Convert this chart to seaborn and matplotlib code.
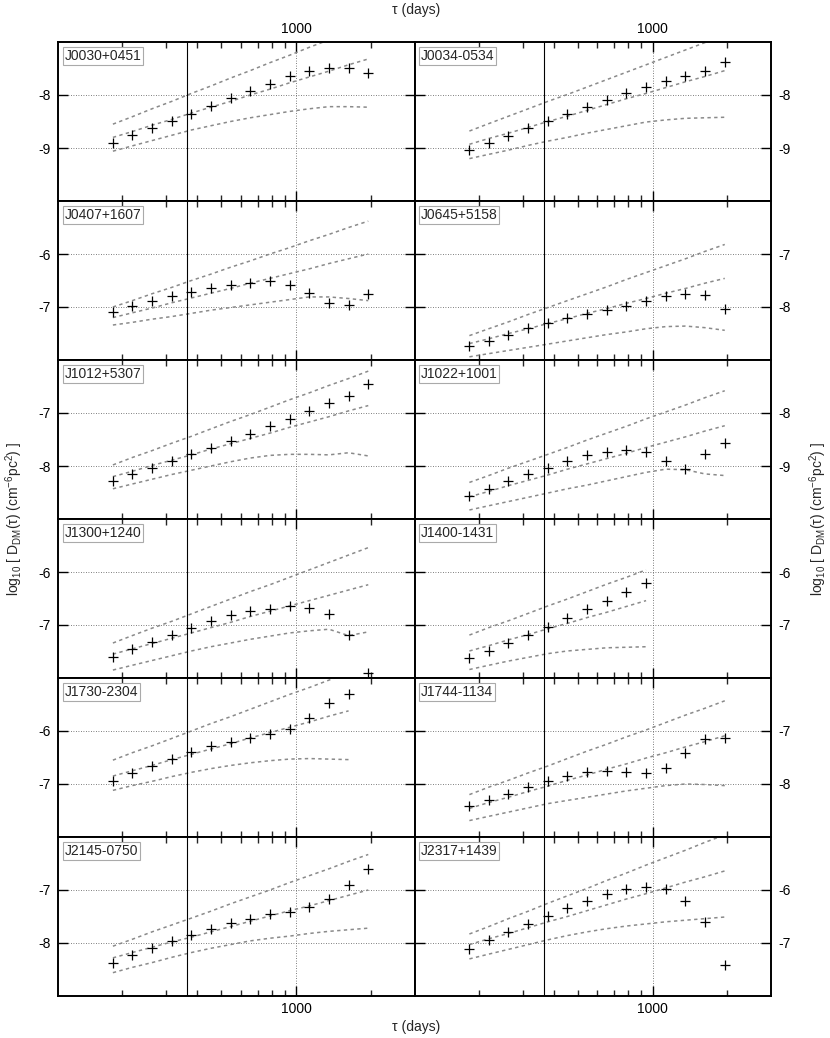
import matplotlib
matplotlib.use("Agg")
import matplotlib.pyplot as plt
import matplotlib.ticker as mticker
import seaborn as sns

# lag values (days) shared by every pulsar
tau = [183, 219, 263, 316, 379, 454, 545, 654, 785, 942, 1131, 1357, 1628, 1954]

names = ["J0030+0451", "J0034-0534", "J0407+1607", "J0645+5158",
         "J1012+5307", "J1022+1001", "J1300+1240", "J1400-1431",
         "J1730-2304", "J1744-1134", "J2145-0750", "J2317+1439"]

# log10 D_DM measurements
j0030_pts = [-8.90, -8.76, -8.62, -8.49, -8.35, -8.21, -8.06, -7.92, -7.79, -7.65, -7.54, -7.49, -7.49, -7.58]
j0034_pts = [-9.04, -8.91, -8.77, -8.63, -8.49, -8.36, -8.22, -8.09, -7.96, -7.84, -7.74, -7.65, -7.54, -7.38]
j0407_pts = [-7.09, -6.99, -6.88, -6.79, -6.71, -6.64, -6.58, -6.54, -6.51, -6.58, -6.73, -6.92, -6.97, -6.76]
j0645_pts = [-8.73, -8.64, -8.52, -8.40, -8.31, -8.21, -8.14, -8.05, -7.98, -7.89, -7.80, -7.75, -7.77, -8.03]
j1012_pts = [-8.28, -8.15, -8.03, -7.91, -7.78, -7.66, -7.53, -7.39, -7.25, -7.11, -6.97, -6.82, -6.67, -6.45]
j1022_pts = [-9.56, -9.43, -9.29, -9.15, -9.04, -8.91, -8.79, -8.73, -8.70, -8.74, -8.91, -9.06, -8.78, -8.56]
j1300_pts = [-7.60, -7.46, -7.33, -7.19, -7.05, -6.92, -6.82, -6.74, -6.69, -6.65, -6.68, -6.80, -7.19, -7.91]
j1400_pts = [-7.63, -7.49, -7.34, -7.18, -7.03, -6.87, -6.70, -6.54, -6.38, -6.21]
j1730_pts = [-6.94, -6.79, -6.66, -6.53, -6.39, -6.28, -6.20, -6.13, -6.06, -5.96, -5.75, -5.48, -5.31]
j1744_pts = [-8.42, -8.30, -8.18, -8.06, -7.95, -7.85, -7.78, -7.75, -7.77, -7.80, -7.70, -7.41, -7.16, -7.13]
j2145_pts = [-8.38, -8.23, -8.09, -7.97, -7.84, -7.73, -7.62, -7.54, -7.46, -7.41, -7.33, -7.17, -6.90, -6.61]
j2317_pts = [-7.11, -6.95, -6.80, -6.64, -6.50, -6.34, -6.20, -6.08, -5.99, -5.94, -5.99, -6.20, -6.61, -7.41]

# dashed curves: upper, middle, lower
j0030_hi = [-8.55, -8.41, -8.26, -8.12, -7.97, -7.83, -7.68, -7.54, -7.39, -7.25, -7.10, -6.96, -6.81, -6.67]
j0030_mid = [-8.80, -8.69, -8.57, -8.46, -8.34, -8.23, -8.12, -8.00, -7.89, -7.77, -7.66, -7.55, -7.43, -7.32]
j0030_lo = [-9.06, -8.96, -8.86, -8.76, -8.66, -8.58, -8.50, -8.43, -8.37, -8.31, -8.26, -8.22, -8.22, -8.23]

j0034_hi = [-8.68, -8.54, -8.40, -8.26, -8.12, -7.99, -7.85, -7.71, -7.57, -7.43, -7.29, -7.15, -7.01, -6.87]
j0034_mid = [-8.93, -8.82, -8.72, -8.61, -8.50, -8.40, -8.29, -8.18, -8.07, -7.97, -7.86, -7.75, -7.65, -7.54]
j0034_lo = [-9.20, -9.12, -9.04, -8.95, -8.87, -8.80, -8.72, -8.65, -8.58, -8.51, -8.47, -8.44, -8.43, -8.42]

j0407_hi = [-7.00, -6.88, -6.75, -6.63, -6.50, -6.38, -6.25, -6.13, -6.00, -5.88, -5.75, -5.63, -5.50, -5.38]
j0407_mid = [-7.20, -7.11, -7.02, -6.92, -6.83, -6.74, -6.65, -6.55, -6.46, -6.37, -6.28, -6.18, -6.09, -6.00]
j0407_lo = [-7.34, -7.29, -7.23, -7.18, -7.12, -7.06, -7.01, -6.96, -6.91, -6.86, -6.81, -6.81, -6.84, -6.88]

j0645_hi = [-8.54, -8.41, -8.28, -8.14, -8.01, -7.88, -7.75, -7.62, -7.48, -7.35, -7.22, -7.09, -6.95, -6.82]
j0645_mid = [-8.69, -8.60, -8.50, -8.41, -8.31, -8.22, -8.12, -8.03, -7.93, -7.84, -7.74, -7.65, -7.55, -7.46]
j0645_lo = [-8.94, -8.88, -8.82, -8.76, -8.70, -8.64, -8.58, -8.52, -8.47, -8.41, -8.37, -8.36, -8.39, -8.44]

j1012_hi = [-7.98, -7.84, -7.71, -7.57, -7.44, -7.30, -7.16, -7.03, -6.89, -6.75, -6.62, -6.48, -6.35, -6.21]
j1012_mid = [-8.20, -8.10, -7.99, -7.89, -7.79, -7.68, -7.58, -7.48, -7.38, -7.27, -7.17, -7.07, -6.96, -6.86]
j1012_lo = [-8.43, -8.34, -8.25, -8.16, -8.08, -8.00, -7.92, -7.85, -7.80, -7.78, -7.78, -7.79, -7.75, -7.81]

j1022_hi = [-9.31, -9.18, -9.04, -8.91, -8.78, -8.65, -8.51, -8.38, -8.25, -8.11, -7.98, -7.85, -7.71, -7.58]
j1022_mid = [-9.58, -9.48, -9.37, -9.27, -9.17, -9.06, -8.96, -8.86, -8.76, -8.65, -8.55, -8.45, -8.34, -8.24]
j1022_lo = [-9.83, -9.75, -9.67, -9.59, -9.51, -9.43, -9.36, -9.28, -9.20, -9.12, -9.06, -9.07, -9.15, -9.18]

j1300_hi = [-7.34, -7.20, -7.06, -6.93, -6.79, -6.65, -6.51, -6.37, -6.24, -6.10, -5.96, -5.82, -5.68, -5.54]
j1300_mid = [-7.55, -7.45, -7.35, -7.25, -7.15, -7.05, -6.95, -6.84, -6.74, -6.64, -6.54, -6.44, -6.34, -6.24]
j1300_lo = [-7.85, -7.76, -7.67, -7.58, -7.49, -7.41, -7.34, -7.27, -7.21, -7.15, -7.11, -7.08, -7.20, -7.13]

j1400_hi = [-7.19, -7.05, -6.92, -6.78, -6.64, -6.51, -6.37, -6.23, -6.10, -5.96]
j1400_mid = [-7.49, -7.39, -7.28, -7.18, -7.07, -6.97, -6.86, -6.76, -6.65, -6.54]
j1400_lo = [-7.84, -7.76, -7.68, -7.61, -7.54, -7.49, -7.46, -7.43, -7.42, -7.41]

j1730_hi = [-6.55, -6.41, -6.28, -6.14, -6.00, -5.86, -5.73, -5.59, -5.45, -5.31, -5.18, -5.04, -4.90]
j1730_mid = [-6.85, -6.75, -6.65, -6.54, -6.44, -6.34, -6.24, -6.13, -6.03, -5.93, -5.83, -5.72, -5.62]
j1730_lo = [-7.12, -7.03, -6.95, -6.86, -6.78, -6.71, -6.65, -6.60, -6.56, -6.53, -6.52, -6.53, -6.54]

j1744_hi = [-8.20, -8.06, -7.93, -7.79, -7.66, -7.52, -7.38, -7.25, -7.11, -6.98, -6.84, -6.70, -6.57, -6.43]
j1744_mid = [-8.46, -8.35, -8.25, -8.14, -8.04, -7.93, -7.83, -7.72, -7.62, -7.51, -7.41, -7.30, -7.20, -7.09]
j1744_lo = [-8.69, -8.61, -8.53, -8.45, -8.37, -8.31, -8.25, -8.19, -8.13, -8.08, -8.03, -8.00, -8.01, -8.03]

j2145_hi = [-8.06, -7.93, -7.79, -7.66, -7.53, -7.40, -7.26, -7.13, -7.00, -6.86, -6.73, -6.60, -6.46, -6.33]
j2145_mid = [-8.28, -8.18, -8.08, -7.98, -7.89, -7.79, -7.69, -7.59, -7.49, -7.39, -7.30, -7.20, -7.10, -7.00]
j2145_lo = [-8.56, -8.46, -8.37, -8.27, -8.18, -8.10, -8.03, -7.96, -7.91, -7.87, -7.82, -7.78, -7.75, -7.72]

j2317_hi = [-6.83, -6.69, -6.54, -6.40, -6.25, -6.11, -5.97, -5.82, -5.68, -5.53, -5.39, -5.25, -5.10, -4.96]
j2317_mid = [-7.03, -6.92, -6.82, -6.71, -6.60, -6.50, -6.39, -6.28, -6.17, -6.07, -5.96, -5.85, -5.75, -5.64]
j2317_lo = [-7.30, -7.21, -7.12, -7.03, -6.94, -6.86, -6.79, -6.73, -6.68, -6.64, -6.60, -6.57, -6.54, -6.51]

pts = [j0030_pts, j0034_pts, j0407_pts, j0645_pts, j1012_pts, j1022_pts,
       j1300_pts, j1400_pts, j1730_pts, j1744_pts, j2145_pts, j2317_pts]
his = [j0030_hi, j0034_hi, j0407_hi, j0645_hi, j1012_hi, j1022_hi,
       j1300_hi, j1400_hi, j1730_hi, j1744_hi, j2145_hi, j2317_hi]
mids = [j0030_mid, j0034_mid, j0407_mid, j0645_mid, j1012_mid, j1022_mid,
        j1300_mid, j1400_mid, j1730_mid, j1744_mid, j2145_mid, j2317_mid]
los = [j0030_lo, j0034_lo, j0407_lo, j0645_lo, j1012_lo, j1022_lo,
       j1300_lo, j1400_lo, j1730_lo, j1744_lo, j2145_lo, j2317_lo]

# lower y limit of each panel (every panel spans 3 decades)
ybottom = [-10, -10, -8, -9, -9, -10, -8, -8, -8, -9, -9, -8]

sns.set_style("white")
plt.rcParams["font.family"] = ["Liberation Sans", "DejaVu Sans"]
plt.rcParams["axes.unicode_minus"] = False
plt.rcParams["mathtext.default"] = "regular"

fig, axes = plt.subplots(6, 2, figsize=(8.3, 10.38), dpi=100, sharex=True)
fig.subplots_adjust(left=58 / 830, right=771 / 830, bottom=1 - 996 / 1038,
                    top=1 - 42 / 1038, wspace=0, hspace=0)

line_kw = dict(color="#8a8a8a", lw=1.1, linestyle=(0, (2.2, 2.2)), legend=False)

for i, ax in enumerate(axes.flat):
    row, col = divmod(i, 2)
    n = len(pts[i])
    x = tau[:n]

    ax.set_xscale("log")
    ax.set_xlim(110, 3000)
    y0 = ybottom[i]
    ax.set_ylim(y0, y0 + 3)

    sns.lineplot(x=x, y=his[i], ax=ax, **line_kw)
    sns.lineplot(x=x, y=mids[i], ax=ax, **line_kw)
    sns.lineplot(x=x, y=los[i], ax=ax, **line_kw)
    sns.scatterplot(x=x, y=pts[i], ax=ax, marker="+", color="black",
                    s=60, linewidth=0.9, zorder=5, legend=False)

    ax.axvline(365, color="black", lw=0.8, zorder=3)

    ax.xaxis.set_major_locator(mticker.FixedLocator([1000]))
    ax.xaxis.set_minor_locator(mticker.FixedLocator([200, 300, 400, 500, 600, 700, 800, 900, 2000]))
    ax.xaxis.set_major_formatter(mticker.FormatStrFormatter("%d"))
    ax.xaxis.set_minor_formatter(mticker.NullFormatter())
    ax.set_yticks([y0 + 1, y0 + 2])
    ax.yaxis.set_major_formatter(mticker.FormatStrFormatter("%d"))

    ax.grid(True, which="major", color="#555555", lw=0.6, linestyle=(0, (1, 2)))
    ax.set_axisbelow(True)

    ax.tick_params(which="major", direction="in", length=7, width=1.0,
                   top=True, bottom=True, left=True, right=True,
                   labelsize=10, colors="black")
    ax.tick_params(which="minor", direction="in", length=4.5, width=1.0,
                   top=True, bottom=True)
    ax.tick_params(axis="x", labeltop=(row == 0), labelbottom=(row == 5), pad=4)
    ax.tick_params(axis="y", labelleft=(col == 0), labelright=(col == 1), pad=5)

    for sp in ax.spines.values():
        sp.set_linewidth(1.4)
        sp.set_color("black")

    ax.set_xlabel("")
    ax.set_ylabel("")
    ax.text(0.018, 0.955, names[i], transform=ax.transAxes, ha="left", va="top",
            fontsize=10, zorder=6,
            bbox=dict(boxstyle="square,pad=0.12", facecolor="white",
                      edgecolor="#aaaaaa", lw=0.8))

fig.text(416 / 830, 1 - 10 / 1038, "τ (days)", ha="center", va="center", fontsize=10)
fig.text(416 / 830, 1 - 1027 / 1038, "τ (days)", ha="center", va="center", fontsize=10)

ylab = r"log$_{10}$ [ D$_{DM}$(τ) (cm$^{-6}$pc$^{2}$) ]"
fig.text(14 / 830, 0.5, ylab, rotation=90, ha="center", va="center", fontsize=10)
fig.text(818 / 830, 0.5, ylab, rotation=90, ha="center", va="center", fontsize=10)

fig.savefig("out.png", dpi=100)
